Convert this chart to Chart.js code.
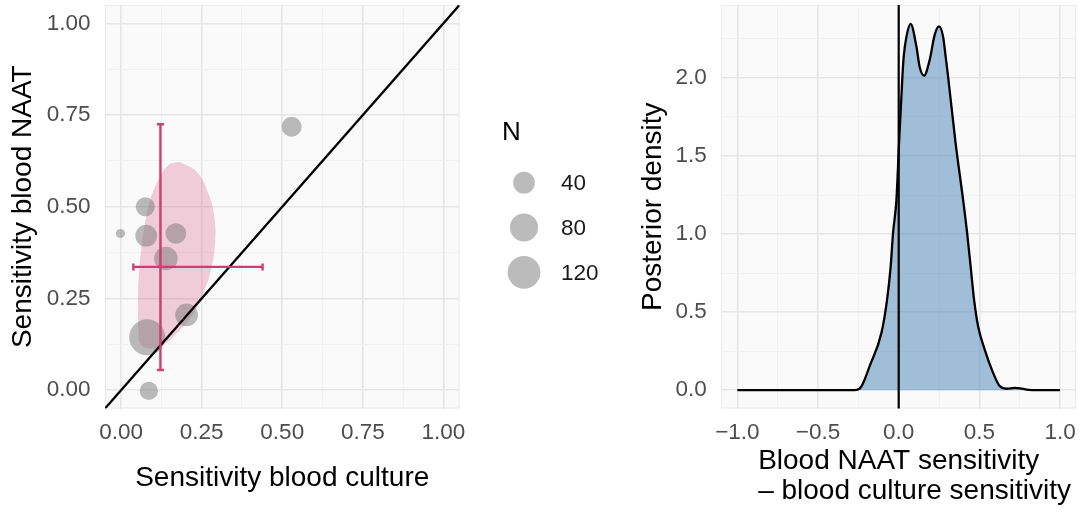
<!DOCTYPE html>
<html>
<head>
<meta charset="utf-8">
<script src="https://cdn.jsdelivr.net/npm/chart.js@4.4.1/dist/chart.umd.min.js"></script>
<style>
  html, body { margin: 0; padding: 0; background: #fff; }
  body { width: 1082px; height: 512px; position: relative; overflow: hidden; }
  canvas { position: absolute; top: 0; }
  #chart-sens { left: 0; }
  #chart-diff { left: 636px; }
</style>
</head>
<body>
<canvas id="chart-sens" width="640" height="512"></canvas>
<canvas id="chart-diff" width="446" height="512"></canvas>
<script>
/* ── studies: blood culture vs blood NAAT sensitivity ── */
const studyCulture = [0.529, 0.075, -0.002, 0.078, 0.170, 0.139, 0.203, 0.081, 0.086];
const studyNaat    = [0.718, 0.500, 0.427, 0.421, 0.427, 0.359, 0.205, 0.144, -0.002];
const studyN       = [32, 28, 8, 40, 35, 50, 45, 152, 25];

/* ── pooled estimate with intervals ── */
const pooledCulture   = 0.122;
const pooledCultureCI = [0.038, 0.439];
const pooledNaat      = 0.336;
const pooledNaatCI    = [0.055, 0.725];

/* ── prediction region outline (closed) ── */
const regionCulture = [0.181, 0.235, 0.271, 0.289, 0.292, 0.281, 0.255, 0.224, 0.173, 0.121,
                       0.084, 0.059, 0.054, 0.052, 0.057, 0.069, 0.090, 0.121, 0.147, 0.181];
const regionNaat    = [0.623, 0.595, 0.536, 0.473, 0.409, 0.336, 0.264, 0.209, 0.155, 0.118,
                       0.114, 0.128, 0.155, 0.245, 0.336, 0.427, 0.518, 0.582, 0.614, 0.623];

const sizeBreaks = [40, 80, 120];

/* ── posterior of the sensitivity difference ── */
const diffX = [-1.0, -0.6, -0.3, -0.26, -0.23, -0.18, -0.107, -0.072, -0.05, -0.035, -0.014,
               0.002, 0.023, 0.031, 0.048, 0.074, 0.11, 0.13, 0.157, 0.192, 0.223, 0.25,
               0.275, 0.291, 0.306, 0.353, 0.399, 0.424, 0.446, 0.467, 0.492, 0.533, 0.585,
               0.626, 0.668, 0.719, 0.792, 0.85, 1.0];
const diffDensity = [0, 0, 0, 0.002, 0.026, 0.154, 0.367, 0.58, 0.79, 1.007, 1.22,
                     1.58, 2.01, 2.137, 2.265, 2.346, 2.2, 2.07, 2.015, 2.116, 2.276, 2.33,
                     2.265, 2.137, 2.01, 1.58, 1.22, 1.007, 0.79, 0.58, 0.41, 0.26, 0.111,
                     0.026, 0.009, 0.015, 0.004, 0, 0];

/* ── axes ── */
const sensLim   = [-0.05, 1.05];
const sensMajor = [0, 0.25, 0.5, 0.75, 1];
const sensMinor = [0.125, 0.375, 0.625, 0.875];
const diffLim   = [-1.1, 1.1];
const diffMajor = [-1, -0.5, 0, 0.5, 1];
const diffMinor = [-0.75, -0.25, 0.25, 0.75];
const densLim   = [-0.1175, 2.4675];
const densMajor = [0, 0.5, 1, 1.5, 2];
const densMinor = [0.25, 0.75, 1.25, 1.75, 2.25];
const vlineAt   = 0;

/* ── styling ── */
const FONT = "'Liberation Sans', Arial, Helvetica, sans-serif";
const POINT_FILL = 'rgba(120,120,120,0.5)';
const ACCENT = '#cf3c71';
const R_MIN = 4.5, R_MAX = 18;

const nLo = Math.min(...studyN), nHi = Math.max(...studyN);
const radiusFor = n => R_MIN + (R_MAX - R_MIN) * Math.sqrt((n - nLo) / (nHi - nLo));

// fixed-size axis box, no extra padding for edge labels
const fixWidth = w => s => { s.width = w; s.paddingTop = 0; s.paddingBottom = 0; };
const fixHeight = h => s => { s.height = h; s.paddingLeft = 0; s.paddingRight = 0; };

function gridAxis(lim, major, minor, fmt, fit, pad) {
  const all = [...major, ...minor].sort((a, b) => a - b);
  const isMajor = v => major.some(m => Math.abs(m - v) < 1e-9);
  return {
    type: 'linear',
    min: lim[0],
    max: lim[1],
    afterBuildTicks: s => { s.ticks = all.map(v => ({ value: v })); },
    afterFit: fit,
    border: { display: false },
    grid: {
      drawTicks: false,
      color: c => isMajor(c.tick.value) ? '#e6e6e6' : '#f0f0f0',
      lineWidth: c => isMajor(c.tick.value) ? 1.6 : 0.8
    },
    ticks: {
      autoSkip: false,
      maxRotation: 0,
      padding: pad,
      color: '#4d4d4d',
      font: { family: FONT, size: 22.5 },
      callback: v => isMajor(v) ? fmt(v) : ''
    }
  };
}

/* panel background + thin border */
const panel = {
  id: 'panel',
  beforeDraw(chart) {
    const { ctx, chartArea: a } = chart;
    ctx.save();
    ctx.fillStyle = '#fafafa';
    ctx.fillRect(a.left, a.top, a.width, a.height);
    ctx.strokeStyle = '#ebebeb';
    ctx.lineWidth = 1;
    ctx.strokeRect(a.left + 0.5, a.top + 0.5, a.width - 1, a.height - 1);
    ctx.restore();
  }
};

/* axis titles; multi-line x title is left-aligned on the centred first line */
const titles = {
  id: 'titles',
  afterDraw(chart, args, opts) {
    const { ctx, chartArea: a } = chart;
    ctx.save();
    ctx.font = `28px ${FONT}`;
    ctx.fillStyle = '#000';
    ctx.textBaseline = 'middle';
    ctx.textAlign = 'left';
    const x0 = (a.left + a.right) / 2 - ctx.measureText(opts.x[0]).width / 2;
    opts.x.forEach((t, i) => ctx.fillText(t, x0, a.bottom + opts.xOffset + i * 30));
    ctx.translate(opts.yPos, (a.top + a.bottom) / 2);
    ctx.rotate(-Math.PI / 2);
    ctx.textAlign = 'center';
    ctx.fillText(opts.y, 0, 0);
    ctx.restore();
  }
};

/* identity line y = x */
const diagonal = {
  id: 'diagonal',
  afterDatasetsDraw(chart) {
    const { ctx, chartArea: a, scales: { x, y } } = chart;
    ctx.save();
    ctx.beginPath();
    ctx.rect(a.left, a.top, a.width, a.height);
    ctx.clip();
    ctx.strokeStyle = '#000';
    ctx.lineWidth = 2.3;
    ctx.beginPath();
    ctx.moveTo(x.getPixelForValue(sensLim[0]), y.getPixelForValue(sensLim[0]));
    ctx.lineTo(x.getPixelForValue(sensLim[1]), y.getPixelForValue(sensLim[1]));
    ctx.stroke();
    ctx.restore();
  }
};

/* pooled estimate crosshair with capped intervals */
const errorBars = {
  id: 'errorBars',
  afterDatasetsDraw(chart) {
    const { ctx, scales: { x, y } } = chart;
    const cx = x.getPixelForValue(pooledCulture), cy = y.getPixelForValue(pooledNaat);
    const xl = x.getPixelForValue(pooledCultureCI[0]), xr = x.getPixelForValue(pooledCultureCI[1]);
    const yt = y.getPixelForValue(pooledNaatCI[1]), yb = y.getPixelForValue(pooledNaatCI[0]);
    const cap = 3.5;
    ctx.save();
    ctx.strokeStyle = ACCENT;
    ctx.lineWidth = 2.4;
    ctx.beginPath();
    ctx.moveTo(cx, yt); ctx.lineTo(cx, yb);
    ctx.moveTo(cx - cap, yt); ctx.lineTo(cx + cap, yt);
    ctx.moveTo(cx - cap, yb); ctx.lineTo(cx + cap, yb);
    ctx.moveTo(xl, cy); ctx.lineTo(xr, cy);
    ctx.moveTo(xl, cy - cap); ctx.lineTo(xl, cy + cap);
    ctx.moveTo(xr, cy - cap); ctx.lineTo(xr, cy + cap);
    ctx.stroke();
    ctx.restore();
  }
};

/* size legend (N) to the right of the panel */
const sizeLegend = {
  id: 'sizeLegend',
  afterDraw(chart) {
    const ctx = chart.ctx;
    ctx.save();
    ctx.fillStyle = '#000';
    ctx.textBaseline = 'middle';
    ctx.textAlign = 'left';
    ctx.font = `26px ${FONT}`;
    ctx.fillText('N', 502, 133);
    ctx.font = `22.5px ${FONT}`;
    sizeBreaks.forEach((n, i) => {
      const cy = 182.7 + i * 44.8;
      ctx.fillStyle = POINT_FILL;
      ctx.beginPath();
      ctx.arc(524, cy, radiusFor(n), 0, Math.PI * 2);
      ctx.fill();
      ctx.fillStyle = '#1a1a1a';
      ctx.fillText(String(n), 561, cy + 1);
    });
    ctx.restore();
  }
};

/* vertical reference line */
const vline = {
  id: 'vline',
  afterDatasetsDraw(chart) {
    const { ctx, chartArea: a, scales: { x } } = chart;
    const px = x.getPixelForValue(vlineAt);
    ctx.save();
    ctx.strokeStyle = '#000';
    ctx.lineWidth = 2.2;
    ctx.beginPath();
    ctx.moveTo(px, a.top);
    ctx.lineTo(px, a.bottom);
    ctx.stroke();
    ctx.restore();
  }
};

const fmt2 = v => v.toFixed(2);
const fmt1 = v => (v < 0 ? '\u2212' : '') + Math.abs(v).toFixed(1);

/* ── left: study scatter ── */
new Chart(document.getElementById('chart-sens'), {
  type: 'scatter',
  data: {
    datasets: [
      {
        type: 'bubble',
        data: studyCulture.map((x, i) => ({ x, y: studyNaat[i], r: radiusFor(studyN[i]) })),
        backgroundColor: POINT_FILL,
        borderWidth: 0,
        borderColor: 'transparent',
        order: 1
      },
      {
        type: 'line',
        data: regionCulture.map((x, i) => ({ x, y: regionNaat[i] })),
        backgroundColor: 'rgba(209,58,110,0.24)',
        borderColor: 'transparent',
        borderWidth: 0,
        pointRadius: 0,
        tension: 0.4,
        fill: 'shape',
        order: 2
      }
    ]
  },
  options: {
    responsive: false,
    animation: false,
    devicePixelRatio: 1,
    layout: { autoPadding: false, padding: { top: 5, right: 180.5, bottom: 0, left: 0 } },
    plugins: {
      legend: { display: false },
      tooltip: { enabled: false },
      titles: { x: ['Sensitivity blood culture'], xOffset: 69.5, y: 'Sensitivity blood NAAT', yPos: 23 }
    },
    scales: {
      x: gridAxis(sensLim, sensMajor, sensMinor, fmt2, fixHeight(103.5), 11),
      y: gridAxis(sensLim, sensMajor, sensMinor, fmt2, fixWidth(105), 14.5)
    }
  },
  plugins: [panel, titles, diagonal, errorBars, sizeLegend]
});

/* ── right: posterior density of the difference ── */
new Chart(document.getElementById('chart-diff'), {
  type: 'scatter',
  data: {
    datasets: [{
      type: 'line',
      data: diffX.map((x, i) => ({ x, y: diffDensity[i] })),
      borderColor: '#000',
      borderWidth: 2.3,
      backgroundColor: 'rgba(70,130,180,0.5)',
      fill: 'origin',
      pointRadius: 0,
      cubicInterpolationMode: 'monotone'
    }]
  },
  options: {
    responsive: false,
    animation: false,
    devicePixelRatio: 1,
    layout: { autoPadding: false, padding: { top: 5, right: 5.8, bottom: 0, left: 0 } },
    plugins: {
      legend: { display: false },
      tooltip: { enabled: false },
      titles: { x: ['Blood NAAT sensitivity', '\u2013 blood culture sensitivity'], xOffset: 53.2, y: 'Posterior density', yPos: 17 }
    },
    scales: {
      x: gridAxis(diffLim, diffMajor, diffMinor, fmt1, fixHeight(103.5), 11),
      y: gridAxis(densLim, densMajor, densMinor, fmt1, fixWidth(85.2), 14.5)
    }
  },
  plugins: [panel, titles, vline]
});
</script>
</body>
</html>
